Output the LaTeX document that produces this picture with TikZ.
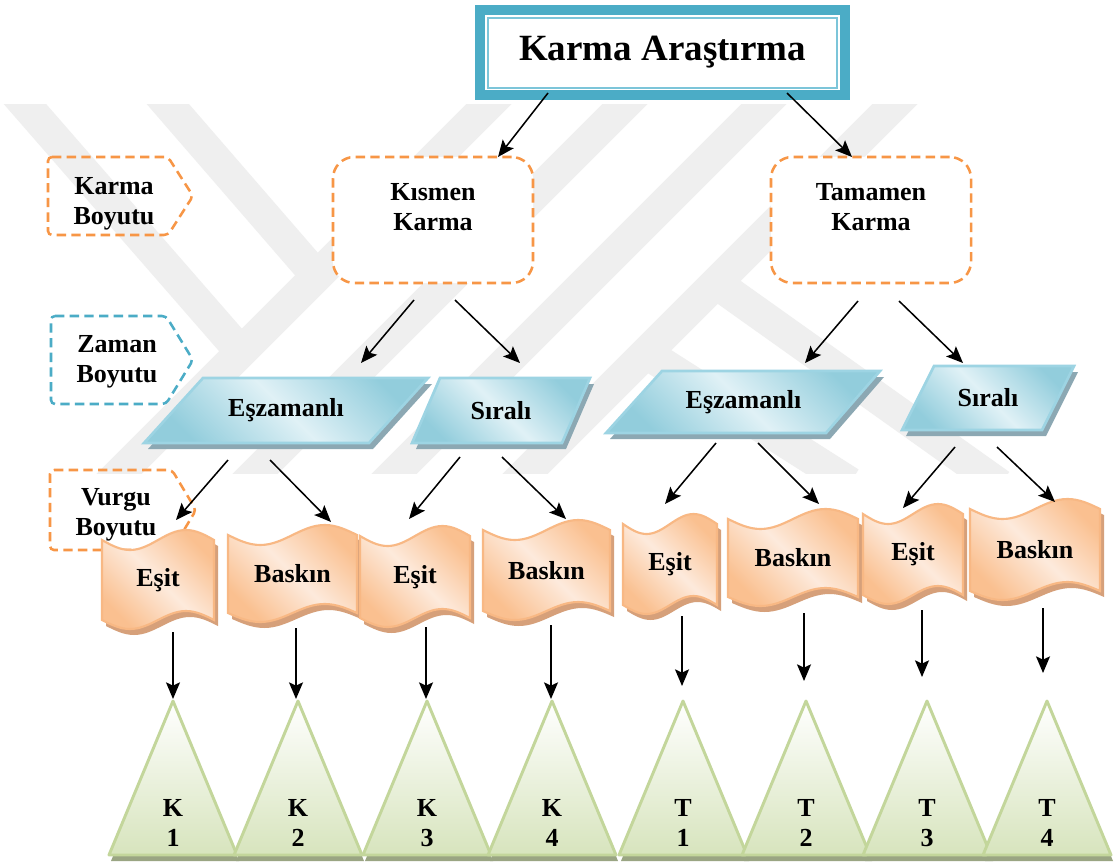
\documentclass[tikz,border=0pt]{standalone}
\usepackage{fontspec}
\setmainfont{Liberation Serif}
\usetikzlibrary{calc,arrows.meta}

\definecolor{frameteal}{HTML}{4BACC6}
\definecolor{frameinner}{HTML}{7CC5D9}
\definecolor{dashorange}{HTML}{F79646}
\definecolor{dashteal}{HTML}{4BACC6}
\definecolor{pgdark}{HTML}{92CDDC}
\definecolor{pglight}{HTML}{E0F1F6}
\definecolor{pgline}{HTML}{9DD4E3}
\definecolor{pgshade}{HTML}{8CA8B3}
\definecolor{scdark}{HTML}{FAC090}
\definecolor{sclight}{HTML}{FDEADC}
\definecolor{scline}{HTML}{F8B884}
\definecolor{scshade}{HTML}{D6A07A}
\definecolor{trgreen}{HTML}{D7E4BD}
\definecolor{trline}{HTML}{C3D69B}
\definecolor{trshade}{HTML}{9AA583}
\definecolor{wmgray}{HTML}{EFEFEF}

% parallelogram: name, top y, bottom y, top-left x, top-right x, bottom-left x, bottom-right x, text
\newcommand\pgram[8]{%
  \fill[pgshade,shift={(4,6)}] (#4,#2) -- (#5,#2) -- (#7,#3) -- (#6,#3) -- cycle;
  \path[pgbody] (#4,#2) -- (#5,#2) -- (#7,#3) -- (#6,#3) -- cycle;
  \node[frame,lbl,minimum width={(#5-#6)*0.75pt},minimum height={(#3-#2)*0.75pt}]
    (#1) at ({(#4+#5+#6+#7)/4},{(#2+#3)/2}) {#8};
}
% wavy banner: name, left x, right x, top y, bottom y, text
\newcommand\scroll[6]{%
  \pgfmathsetmacro\sa{#2+(#3-#2)/4}%
  \pgfmathsetmacro\sm{#2+(#3-#2)/2}%
  \pgfmathsetmacro\sb{#2+3*(#3-#2)/4}%
  \fill[scshade,shift={(4,6)}] (#2,#4) sin (\sa,#4+10) cos (\sm,#4) sin (\sb,#4-10) cos (#3,#4)
     -- (#3,#5) sin (\sb,#5-9) cos (\sm,#5) sin (\sa,#5+9) cos (#2,#5) -- cycle;
  \path[scbody] (#2,#4) sin (\sa,#4+10) cos (\sm,#4) sin (\sb,#4-10) cos (#3,#4)
     -- (#3,#5) sin (\sb,#5-9) cos (\sm,#5) sin (\sa,#5+9) cos (#2,#5) -- cycle;
  \node[frame,lbl,minimum width={(#3-#2)*0.75pt},minimum height={(#5-#4)*0.75pt}]
    (#1) at ({(#2+#3)/2},{(#4+#5)/2}) {#6};
}
% triangle: name, apex x, text
\newcommand\tri[3]{%
  \fill[trshade,shift={(2,6)}] (#2,701) -- (#2+64,855) -- (#2-64,855) -- cycle;
  \path[trbody] (#2,701) -- (#2+64,855) -- (#2-64,855) -- cycle;
  \node[frame,minimum width=96pt,minimum height=115.5pt] (#1) at (#2,778) {};
  \node[lbl] (#1-t) at (#2,823) {#3};
}

\begin{document}
\begin{tikzpicture}[x=0.75pt,y=-0.75pt,
  frame/.style={inner sep=0pt,outer sep=0pt},
  lbl/.style={font=\fontsize{19.5}{22.5}\selectfont\bfseries,align=center,inner sep=0pt,outer sep=0pt},
  titlebox/.style={draw=frameteal,line width=7.5pt,fill=white,minimum width=273.75pt,
    minimum height=63.75pt,inner sep=0pt,outer sep=0pt,font=\fontsize{27.75}{33}\selectfont\bfseries},
  orangedash/.style={draw=dashorange,line width=1.9pt,dash pattern=on 7pt off 4pt},
  tealdash/.style={draw=dashteal,line width=1.9pt,dash pattern=on 7pt off 4pt},
  roundbox/.style={orangedash,fill=white,rounded corners=16pt,minimum width=150pt,
    minimum height=94.5pt,inner sep=0pt,outer sep=0pt},
  pgbody/.style={draw=pgline,line width=2pt,top color=pgdark,bottom color=pgdark,
    middle color=pglight,shading angle=-45},
  scbody/.style={draw=scline,line width=1.6pt,top color=scdark,bottom color=scdark,
    middle color=sclight,shading angle=-45},
  trbody/.style={draw=trline,line width=2.2pt,line join=round,top color=white,bottom color=trgreen},
  wm/.style={draw=wmgray,line width=24pt,line cap=butt},
  arr/.style={line width=1.15pt,-{Stealth[length=12.5pt,width=10.5pt,inset=2.5pt]}}]

\useasboundingbox (0,0) rectangle (1119,866);
\fill[white] (0,0) rectangle (1119,866);

% faint background emblem
\begin{scope}
  \clip (0,105) rectangle (1119,473);
  \draw[wm] (513,80) -- (93,500);
  \draw[wm] (649,80) -- (229,500);
  \draw[wm] (788,80) -- (368,500);
  \draw[wm] (919,80) -- (499,500);
  \draw[wm] (4,80) -- (248,360);
  \draw[wm] (147,80) -- (322,282);
  \draw[wm] (716,283) -- (1000,485);
  \draw[wm] (646,353) -- (850,483);
\end{scope}

% dimension tags on the left
\path[orangedash,rounded corners=3pt] (48,157) -- (168,157) -- (193,196) -- (168,235) -- (48,235) -- cycle;
\path[tealdash,rounded corners=3pt] (51,316) -- (166,316) -- (193,360) -- (166,404) -- (51,404) -- cycle;
\path[orangedash,rounded corners=3pt] (50,470) -- (172,470) -- (196,510) -- (172,550) -- (50,550) -- cycle;

% title
\node[titlebox] (top) at (662.5,52.5) {Karma Araştırma};
\draw[frameinner,line width=1.5pt] ($(top.north west)+(8,8)$) rectangle ($(top.south east)+(-8,-7)$);

% second level
\node[roundbox] (ks) at (433,220) {};
\node[lbl] (ks-t) at (433,207) {Kısmen\\Karma};
\node[roundbox] (tm) at (871,220) {};
\node[lbl] (tm-t) at (871,207) {Tamamen\\Karma};

% time dimension
\pgram{ez1}{378}{443}{203}{428}{144}{369}{Eşzamanlı}
\pgram{sr1}{378}{443}{440}{590}{412}{562}{Sıralı}
\pgram{ez2}{371}{433}{662}{880}{606}{826}{Eşzamanlı}
\pgram{sr2}{366}{430}{934}{1074}{902}{1042}{Sıralı}

% emphasis dimension
\scroll{e1}{102}{214}{540}{620}{Eşit}
\scroll{b1}{228}{357}{535}{613}{Baskın}
\scroll{e2}{360}{470}{536}{618}{Eşit}
\scroll{b2}{483}{610}{530}{611}{Baskın}
\scroll{e3}{623}{717}{524}{605}{Eşit}
\scroll{b3}{728}{858}{519}{597}{Baskın}
\scroll{e4}{863}{963}{514}{595}{Eşit}
\scroll{b4}{970}{1100}{509}{591}{Baskın}

% designs
\tri{k1}{173}{K\\1}
\tri{k2}{298}{K\\2}
\tri{k3}{427}{K\\3}
\tri{k4}{552}{K\\4}
\tri{t1}{683}{T\\1}
\tri{t2}{806}{T\\2}
\tri{t3}{927}{T\\3}
\tri{t4}{1047}{T\\4}

% tag texts
\node[lbl] (kb) at (114,204) {Karma\\Boyutu};
\node[lbl] (zb) at (117,362) {Zaman\\Boyutu};
\node[lbl] (vb) at (116,515) {Vurgu\\Boyutu};

% connectors
\draw[arr] ($(top.south)+(-114.5,-2)$) -- ($(ks.north)+(65,0)$);
\draw[arr] ($(top.south)+(124.5,-2)$) -- ($(tm.north)+(-19,0)$);

\draw[arr] ($(ks.south)+(-19,17)$) -- ($(ez1.north)+(75,-15)$);
\draw[arr] ($(ks.south)+(22,17)$) -- ($(sr1.north)+(19,-15)$);
\draw[arr] ($(tm.south)+(-13,18)$) -- ($(ez2.north)+(61.5,-8)$);
\draw[arr] ($(tm.south)+(28,18)$) -- ($(sr2.north)+(-25,-3)$);

\draw[arr] ($(ez1.south)+(-58,17)$) -- ($(e1.north)+(18,-20)$);
\draw[arr] ($(ez1.south)+(-16,17)$) -- ($(b1.north)+(38.5,-13)$);
\draw[arr] ($(sr1.south)+(-41,14)$) -- ($(e2.north)+(-6,-17)$);
\draw[arr] ($(sr1.south)+(1,14)$) -- ($(b2.north)+(19.5,-11)$);
\draw[arr] ($(ez2.south)+(-27.5,10)$) -- ($(e3.north)+(-5,-20)$);
\draw[arr] ($(ez2.south)+(14.5,10)$) -- ($(b3.north)+(26,-15)$);
\draw[arr] ($(sr2.south)+(-33,17)$) -- ($(e4.north)+(-10,-6)$);
\draw[arr] ($(sr2.south)+(9,17)$) -- ($(b4.north)+(20,-7)$);

\draw[arr] ($(e1.south)+(15,12)$) -- ($(k1.north)+(0,-2)$);
\draw[arr] ($(b1.south)+(3.5,15)$) -- ($(k2.north)+(-2,-2)$);
\draw[arr] ($(e2.south)+(11,9)$) -- ($(k3.north)+(-1,-2)$);
\draw[arr] ($(b2.south)+(4.5,14)$) -- ($(k4.north)+(-1,-2)$);
\draw[arr] ($(e3.south)+(12,11)$) -- ($(t1.north)+(-1,-15)$);
\draw[arr] ($(b3.south)+(11,16)$) -- ($(t2.north)+(-2,-20)$);
\draw[arr] ($(e4.south)+(9,15)$) -- ($(t3.north)+(-5,-24)$);
\draw[arr] ($(b4.south)+(8,17)$) -- ($(t4.north)+(-4,-28)$);
\end{tikzpicture}
\end{document}
